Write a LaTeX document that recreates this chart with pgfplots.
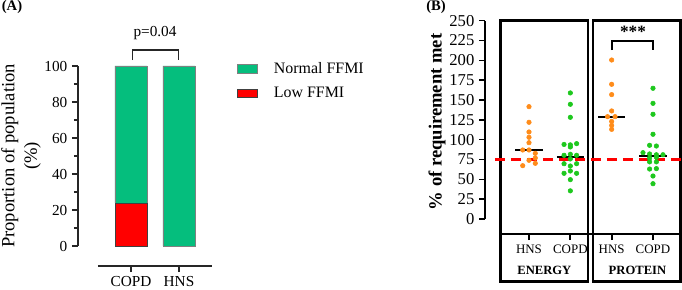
\documentclass[border=0pt]{standalone}
\usepackage{fontspec}
\setmainfont{Liberation Serif}
\usepackage{pgfplots}
\pgfplotsset{compat=1.18}

\definecolor{ffmigreen}{RGB}{5,190,125}
\definecolor{ffmired}{RGB}{255,0,0}
\definecolor{hnsorange}{RGB}{255,140,26}
\definecolor{copdgreen}{RGB}{30,200,30}

\begin{document}
\begin{tikzpicture}
\path[use as bounding box] (0bp,0bp) rectangle (511.5bp,217.5bp);

% ---------------- Panel A: FFMI categories ----------------
\node[font=\bfseries\fontsize{11}{13}\selectfont] at (9bp,212.25bp) {(A)};
\begin{axis}[
  at={(58.5bp,18bp)}, anchor=south west, scale only axis,
  width=100.5bp, height=150bp,
  xmin=-0.104, xmax=2.6875, ymin=-11.11, ymax=100,
  axis x line*=bottom, axis y line*=left,
  axis line style={draw=none},
  clip=false,
  /pgf/number format/assume math mode=true,
  tick align=outside,
  major tick length=4.5bp, minor tick length=3bp,
  tick style={black!85, line width=0.8bp},
  ytick={0,20,...,100}, minor ytick={10,30,50,70,90},
  xtick={1,2}, xticklabels={COPD,HNS},
  tick label style={font=\fontsize{11.5}{13}\selectfont},
  ylabel={Proportion of population\\(\%)},
  every axis y label/.style={at={(axis description cs:-0.425,0.55)}, rotate=90,
    anchor=center, align=center, font=\fontsize{14}{17}\selectfont},
  ybar stacked, bar width=0.667,
  reverse legend,
  legend style={at={(axis description cs:1.187,0.925)}, anchor=west,
    draw=none, fill=none, inner sep=0pt,
    font=\fontsize{12}{14}\selectfont, row sep=9bp,
    nodes={inner sep=0pt},
    /tikz/every odd column/.append style={column sep=12bp}},
  legend cell align=left,
  legend image code/.code={\draw[#1] (0bp,-3.15bp) rectangle (15bp,3.15bp);},
]
\addplot[fill=ffmired, draw=black!75, line width=0.4bp] coordinates {(1,24) (2,0)};
\addlegendentry{Low FFMI}
\addplot[fill=ffmigreen, draw=gray, line width=0.4bp] coordinates {(1,76) (2,100)};
\addlegendentry{Normal FFMI}
% axis lines
\draw[black!85, line width=1bp] (axis cs:-0.104,0) -- (axis cs:-0.104,100);
\draw[black!85, line width=1bp] (axis cs:0.3125,-11.11) -- (axis cs:2.6875,-11.11);
% significance bracket
\draw[black!85, line width=0.8bp] (axis cs:1.04,103.3) -- (axis cs:1.04,108.9) -- (axis cs:1.98,108.9) -- (axis cs:1.98,103.3);
\node[font=\fontsize{11.5}{13}\selectfont] at (axis cs:1.5,118.3) {p=0.04};
\end{axis}

% ---------------- Panel B: intake vs requirement ----------------
\node[font=\bfseries\fontsize{11}{13}\selectfont] at (327bp,212.25bp) {(B)};
\begin{axis}[
  at={(363.75bp,42bp)}, anchor=south west, scale only axis,
  width=147.75bp, height=160bp,
  xmin=-0.0645, xmax=4.702, ymin=-18.9, ymax=250,
  axis x line*=bottom, axis y line*=left,
  axis line style={draw=none},
  clip=false,
  /pgf/number format/assume math mode=true,
  tick align=outside,
  major tick length=4.5bp,
  y tick style={black, line width=1.1bp},
  x tick style={black, line width=1.5bp},
  ytick={0,25,...,250},
  xtick={1,2,3,4}, xticklabels={HNS,COPD,HNS,COPD},
  yticklabel style={font=\fontsize{12.5}{14}\selectfont},
  xticklabel style={font=\fontsize{9.75}{11}\selectfont},
  ylabel={\% of requirement met},
  every axis y label/.style={at={(axis description cs:-0.2437,0.525)}, rotate=90,
    anchor=center, font=\bfseries\fontsize{14}{16}\selectfont},
]
% group frames
\draw[black, line width=2bp] (axis cs:0.315,-79) rectangle (axis cs:2.4275,250);
\draw[black, line width=2bp] (axis cs:2.5485,-79) rectangle (axis cs:4.664,250);
\draw[black, line width=2bp] (axis cs:0.315,-18.9) -- (axis cs:4.664,-18.9);
\node[font=\bfseries\fontsize{9.5}{11}\selectfont] at (axis cs:1.371,-64.3) {ENERGY};
\node[font=\bfseries\fontsize{9.5}{11}\selectfont] at (axis cs:3.625,-64.3) {PROTEIN};
% y axis line
\draw[black, line width=1.1bp] (axis cs:-0.0645,0) -- (axis cs:-0.0645,250);
% 75% reference
\addplot[red, line width=2bp, dash pattern=on 7.5bp off 4.5bp] coordinates {(0.177,75) (4.702,75)};

% energy, HNS
\addplot[only marks, mark=*, color=hnsorange, mark size=1.7bp] coordinates {
(1,141.6) (1,121.9) (1,109.7) (1,103.0) (1,96.2) (0.848,87.0) (1,87.0)
(1.152,82.8) (1.152,76.9) (1,74.0) (1.152,70.2) (0.848,67.2)};
% energy, COPD
\addplot[only marks, mark=*, color=copdgreen, mark size=1.7bp] coordinates {
(2,158.9) (2,144.6) (2,128.2) (1.848,94.0) (2,93.5) (2.152,95.0) (2,90.8)
(2,81.6) (1.848,80.3) (2.152,80.3) (2,75.7) (1.848,69.7) (2.152,69.7)
(2,66.8) (2,60.5) (1.848,57.6) (2.152,57.6) (2,49.6) (2,35.5)};
% protein, HNS
\addplot[only marks, mark=*, color=hnsorange, mark size=1.7bp] coordinates {
(3,200.4) (3,169.8) (3,156.8) (3,136.2) (2.9,129.0) (3.082,129.0)
(3,123.0) (3,118.0) (3,113.0)};
% protein, COPD
\addplot[only marks, mark=*, color=copdgreen, mark size=1.7bp] coordinates {
(4,164.8) (4,145.8) (4,132.0) (4,106.8) (3.918,92.9) (4.082,92.0)
(3.758,83.6) (3.918,82.0) (4.082,81.0) (4.242,81.0) (4.082,77.8) (3.918,76.8)
(3.918,72.0) (4.082,72.0) (3.918,63.0) (4.082,63.5) (4,54.2) (4,44.5)};

% medians
\addplot[black, line width=1.5bp] coordinates {(0.673,87) (1.327,87)};
\addplot[black, line width=1.5bp] coordinates {(1.673,78) (2.327,78)};
\addplot[black, line width=1.5bp] coordinates {(2.673,129) (3.327,129)};
\addplot[black, line width=1.5bp] coordinates {(3.673,80) (4.327,80)};

% significance bracket
\draw[black, line width=1.5bp] (axis cs:3,213) -- (axis cs:3,224.8) -- (axis cs:4,224.8) -- (axis cs:4,213);
\node[font=\bfseries\fontsize{13}{15}\selectfont] at (axis cs:3.516,236) {***};
\end{axis}
\end{tikzpicture}
\end{document}
